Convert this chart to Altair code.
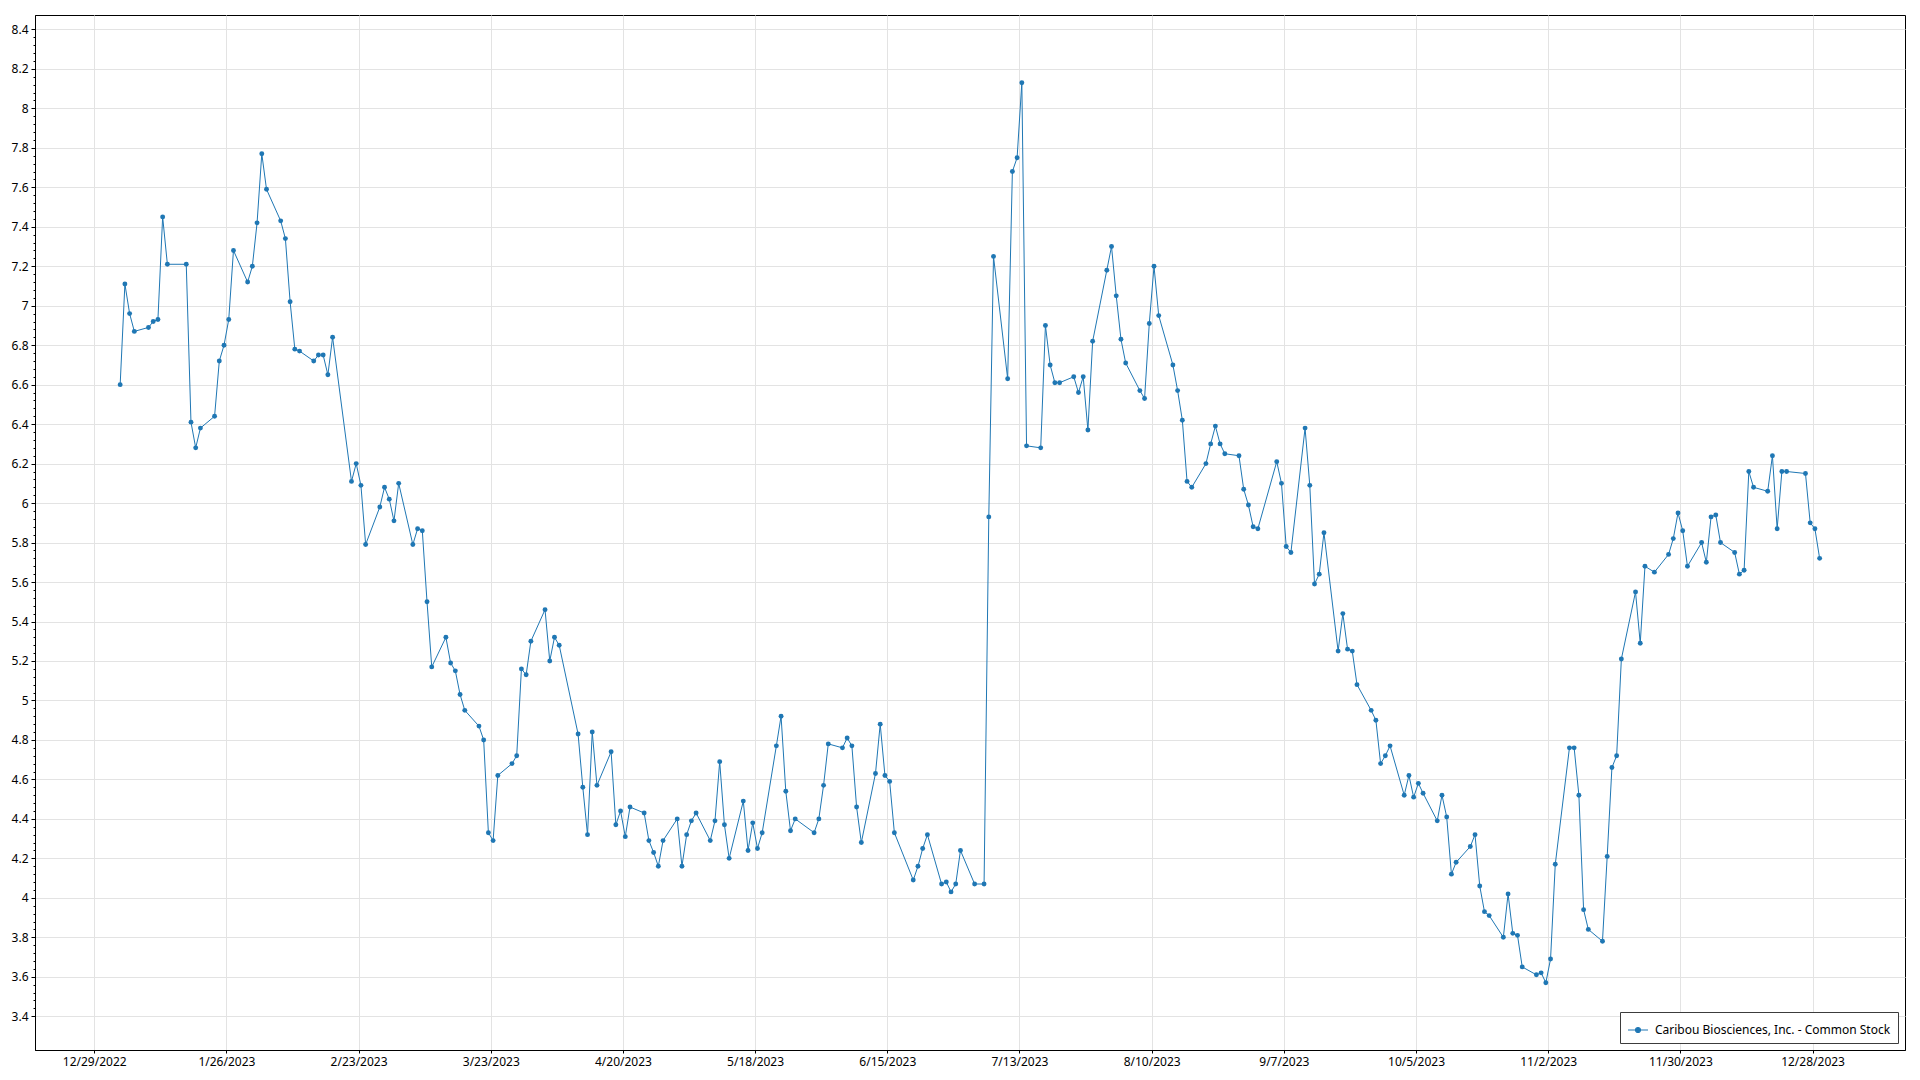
import altair as alt
import pandas as pd

SERIES = "Caribou Biosciences, Inc. - Common Stock"

jan_days = [3, 4, 5, 6, 9, 10, 11, 12, 13, 17, 18, 19, 20, 23, 24, 25, 26, 27, 30, 31]
jan_vals = [6.60, 7.11, 6.96, 6.87, 6.89, 6.92, 6.93, 7.45, 7.21, 7.21, 6.41, 6.28, 6.38, 6.44, 6.72, 6.80, 6.93, 7.28, 7.12, 7.20]
feb_days = [1, 2, 3, 6, 7, 8, 9, 10, 13, 14, 15, 16, 17, 21, 22, 23, 24, 27, 28]
feb_vals = [7.42, 7.77, 7.59, 7.43, 7.34, 7.02, 6.78, 6.77, 6.72, 6.75, 6.75, 6.65, 6.84, 6.11, 6.20, 6.09, 5.79, 5.98, 6.08]
mar_days = [1, 2, 3, 6, 7, 8, 9, 10, 13, 14, 15, 16, 17, 20, 21, 22, 23, 24, 27, 28, 29, 30, 31]
mar_vals = [6.02, 5.91, 6.10, 5.79, 5.87, 5.86, 5.50, 5.17, 5.32, 5.19, 5.15, 5.03, 4.95, 4.87, 4.80, 4.33, 4.29, 4.62, 4.68, 4.72, 5.16, 5.13, 5.30]
apr_days = [3, 4, 5, 6, 10, 11, 12, 13, 14, 17, 18, 19, 20, 21, 24, 25, 26, 27, 28]
apr_vals = [5.46, 5.20, 5.32, 5.28, 4.83, 4.56, 4.32, 4.84, 4.57, 4.74, 4.37, 4.44, 4.31, 4.46, 4.43, 4.29, 4.23, 4.16, 4.29]
may_days = [1, 2, 3, 4, 5, 8, 9, 10, 11, 12, 15, 16, 17, 18, 19, 22, 23, 24, 25, 26, 30, 31]
may_vals = [4.40, 4.16, 4.32, 4.39, 4.43, 4.29, 4.39, 4.69, 4.37, 4.20, 4.49, 4.24, 4.38, 4.25, 4.33, 4.77, 4.92, 4.54, 4.34, 4.40, 4.33, 4.40]
jun_days = [1, 2, 5, 6, 7, 8, 9, 12, 13, 14, 15, 16, 20, 21, 22, 23, 26, 27, 28, 29, 30]
jun_vals = [4.57, 4.78, 4.76, 4.81, 4.77, 4.46, 4.28, 4.63, 4.88, 4.62, 4.59, 4.33, 4.09, 4.16, 4.25, 4.32, 4.07, 4.08, 4.03, 4.07, 4.24]
jul_days = [3, 5, 6, 7, 10, 11, 12, 13, 14, 17, 18, 19, 20, 21, 24, 25, 26, 27, 28, 31]
jul_vals = [4.07, 4.07, 5.93, 7.25, 6.63, 7.68, 7.75, 8.13, 6.29, 6.28, 6.90, 6.70, 6.61, 6.61, 6.64, 6.56, 6.64, 6.37, 6.82, 7.18]
aug_days = [1, 2, 3, 4, 7, 8, 9, 10, 11, 14, 15, 16, 17, 18, 21, 22, 23, 24, 25, 28, 29, 30, 31]
aug_vals = [7.30, 7.05, 6.83, 6.71, 6.57, 6.53, 6.91, 7.20, 6.95, 6.70, 6.57, 6.42, 6.11, 6.08, 6.20, 6.30, 6.39, 6.30, 6.25, 6.24, 6.07, 5.99, 5.88]
sep_days = [1, 5, 6, 7, 8, 11, 12, 13, 14, 15, 18, 19, 20, 21, 22, 25, 26, 27, 28, 29]
sep_vals = [5.87, 6.21, 6.10, 5.78, 5.75, 6.38, 6.09, 5.59, 5.64, 5.85, 5.25, 5.44, 5.26, 5.25, 5.08, 4.95, 4.90, 4.68, 4.72, 4.77]
oct_days = [2, 3, 4, 5, 6, 9, 10, 11, 12, 13, 16, 17, 18, 19, 20, 23, 24, 25, 26, 27, 30, 31]
oct_vals = [4.52, 4.62, 4.51, 4.58, 4.53, 4.39, 4.52, 4.41, 4.12, 4.18, 4.26, 4.32, 4.06, 3.93, 3.91, 3.80, 4.02, 3.82, 3.81, 3.65, 3.61, 3.62]
nov_days = [1, 2, 3, 6, 7, 8, 9, 10, 13, 14, 15, 16, 17, 20, 21, 22, 24, 27, 28, 29, 30]
nov_vals = [3.57, 3.69, 4.17, 4.76, 4.76, 4.52, 3.94, 3.84, 3.78, 4.21, 4.66, 4.72, 5.21, 5.55, 5.29, 5.68, 5.65, 5.74, 5.82, 5.95, 5.86]
dec_days = [1, 4, 5, 6, 7, 8, 11, 12, 13, 14, 15, 18, 19, 20, 21, 22, 26, 27, 28, 29]
dec_vals = [5.68, 5.80, 5.70, 5.93, 5.94, 5.80, 5.75, 5.64, 5.66, 6.16, 6.08, 6.06, 6.24, 5.87, 6.16, 6.16, 6.15, 5.90, 5.87, 5.72]

months = [
    (1, jan_days, jan_vals), (2, feb_days, feb_vals), (3, mar_days, mar_vals),
    (4, apr_days, apr_vals), (5, may_days, may_vals), (6, jun_days, jun_vals),
    (7, jul_days, jul_vals), (8, aug_days, aug_vals), (9, sep_days, sep_vals),
    (10, oct_days, oct_vals), (11, nov_days, nov_vals), (12, dec_days, dec_vals),
]

x_tick_labels = ["12/29/2022", "1/26/2023", "2/23/2023", "3/23/2023", "4/20/2023",
                 "5/18/2023", "6/15/2023", "7/13/2023", "8/10/2023", "9/7/2023",
                 "10/5/2023", "11/2/2023", "11/30/2023", "12/28/2023"]

rows = []
for m, days, vals in months:
    for d, v in zip(days, vals):
        rows.append({"date": f"2023-{m:02d}-{d:02d}T12:00:00", "price": v, "series": SERIES})
df = pd.DataFrame(rows)


def to_dt(s, hours=0):
    mm, dd, yy = [int(p) for p in s.split("/")]
    return alt.DateTime(year=yy, month=mm, date=dd, hours=hours)


x_values = [to_dt(s) for s in x_tick_labels]
y_values = [round(3.4 + 0.04 * i, 2) for i in range(126)]

FONT = "Noto Sans"
COLOR = "#1f77b4"
major = "abs(datum.value*5 - round(datum.value*5)) < 0.001"

legend_symbol = ("M-1,0L-0.25,0M0.25,0L1,0"
                 "M-0.25,0A0.25,0.25 0 1,1 0.25,0A0.25,0.25 0 1,1 -0.25,0Z")

chart = alt.Chart(df).mark_line(
    strokeWidth=1.0,
    point=alt.OverlayMarkDef(filled=True, size=24, opacity=1),
).encode(
    x=alt.X("date:T",
            scale=alt.Scale(domain=[alt.DateTime(year=2022, month=12, date=16, hours=11),
                                    alt.DateTime(year=2024, month=1, date=16, hours=14)],
                            nice=False),
            axis=alt.Axis(values=x_values, format="%-m/%-d/%Y", title=None,
                          labelFont=FONT, labelFontSize=12, labelColor="#000000",
                          tickSize=3, tickColor="#000000", labelPadding=3,
                          domainColor="#000000", gridColor="#e3e3e3",
                          labelAngle=0, labelFlush=False, labelOverlap=False)),
    y=alt.Y("price:Q",
            scale=alt.Scale(domain=[3.229, 8.473], nice=False, zero=False),
            axis=alt.Axis(values=y_values, title=None,
                          labelExpr=f"({major}) ? format(datum.value, '.1~f') : ''",
                          labelFont=FONT, labelFontSize=12, labelColor="#000000",
                          tickSize=alt.ExprRef(f"({major}) ? 4 : 2"),
                          tickColor="#000000", labelPadding=3,
                          domainColor="#000000", gridColor="#e3e3e3",
                          gridOpacity=alt.ExprRef(f"({major}) ? 1 : 0"),
                          labelOverlap=False, labelFlush=False)),
    color=alt.Color("series:N",
                    scale=alt.Scale(domain=[SERIES], range=[COLOR]),
                    legend=alt.Legend(title=None, orient="bottom-right", offset=7,
                                      padding=7, strokeColor="#3c3c3c", fillColor="#ffffff",
                                      labelFont=FONT, labelFontSize=12, labelColor="#000000",
                                      labelLimit=0,
                                      symbolType=legend_symbol, symbolSize=400,
                                      symbolStrokeWidth=1.2, symbolFillColor=COLOR,
                                      symbolStrokeColor=COLOR, labelOffset=6)),
).properties(
    width=1870, height=1035,
    autosize=alt.AutoSizeParams(type="none"),
    padding={"left": 27, "top": 7, "right": 7, "bottom": 20},
).configure_view(
    stroke="#000000", strokeWidth=1,
).configure_axis(
    gridWidth=1, domainWidth=1, tickWidth=1,
)

chart.save("out.html", embed_options={"renderer": "svg", "actions": False})
